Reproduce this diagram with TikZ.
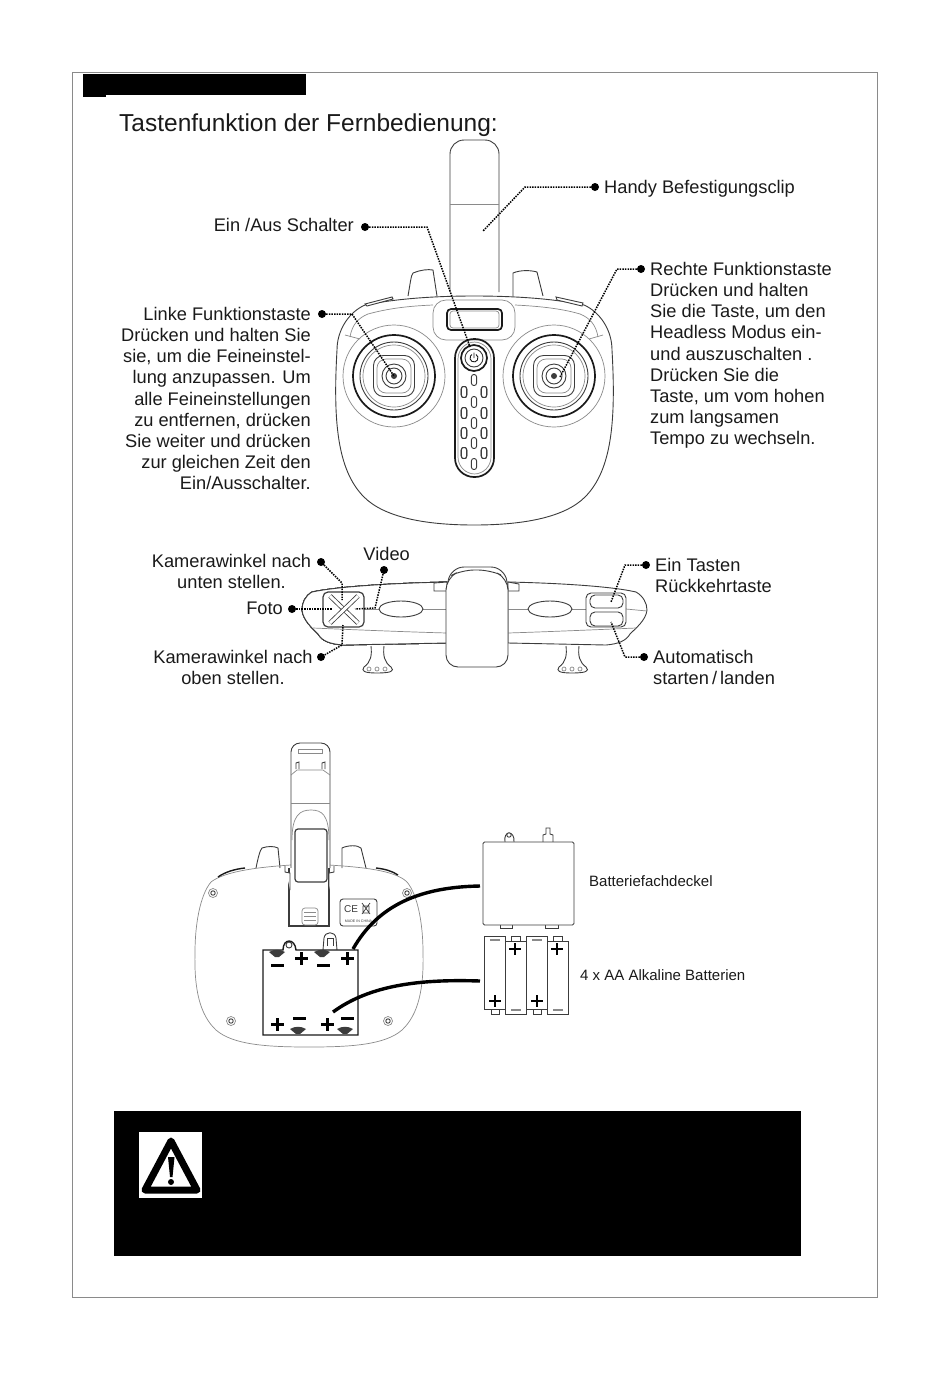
\documentclass[tikz,border=0pt]{standalone}
\usepackage{fontspec}
\setmainfont{Liberation Sans}
\usetikzlibrary{positioning, calc}
\definecolor{inkDark}{HTML}{1A1A1A}
\definecolor{inkLine}{HTML}{3C3C3C}
\definecolor{inkPale}{HTML}{8A8A8A}
\tikzset{
  outline/.style={draw=inkLine, line width=0.9pt, fill=white},
  hairline/.style={draw=inkPale, line width=0.7pt},
  heavyline/.style={draw=inkDark, line width=1.7pt},
  leader/.style={draw=black, line width=1.5pt, dash pattern=on 1.5pt off 1.1pt},
  leaddot/.style={circle, fill=black, inner sep=0pt, minimum size=8pt},
  linkcurve/.style={draw=black, line width=3.4pt},
  labelL/.style={font=\fontsize{18.25}{21.15}\selectfont, text=inkDark, align=right, anchor=north east, inner sep=0pt},
  labelR/.style={font=\fontsize{18.25}{21.15}\selectfont, text=inkDark, align=left, anchor=north west, inner sep=0pt},
  labelS/.style={font=\fontsize{15}{16}\selectfont, text=inkDark, anchor=west, inner sep=0pt},
  blackbar/.style={fill=black, draw=none}
}
\newcommand{\stickat}[2]{%
  \draw[hairline] (#1,#2) circle (51);
  \draw[heavyline] (#1,#2) circle (41);
  \draw[outline] (#1,#2) circle (34);
  \draw[hairline] (#1,#2) circle (31);
  \draw[outline, rounded corners=10] (#1-20.5,#2-20.5) rectangle (#1+20.5,#2+20.5);
  \draw[hairline, rounded corners=9] (#1-17,#2-17) rectangle (#1+17,#2+17);
  \draw[outline] (#1,#2) circle (12);
  \draw[outline] (#1,#2) circle (8);
  \draw[fill=inkLine, draw=none] (#1,#2) circle (3);}
\newcommand{\screwat}[2]{%
  \draw[hairline] (#1,#2) circle (4.5);
  \draw[outline] (#1,#2) circle (2.2);}
\newcommand{\pillat}[2]{%
  \draw[outline, rounded corners=2.4] (#1-2.6,#2-5.5) rectangle (#1+2.6,#2+5.5);}
\newcommand{\clipat}[2]{%
  \fill[inkLine] (#1-8,#2-1) .. controls (#1-3,#2-4) and (#1+3,#2-4) .. (#1+8,#2-1)
    -- (#1+2,#2+4) -- (#1-2,#2+4) -- cycle;}
\newcommand{\battcell}[2]{%
  \draw[outline] (#1,#2) rectangle (#1+21,#2+73);}
\newcommand{\minusat}[2]{%
  \fill[black] (#1-6.5,#2-1.5) rectangle (#1+6.5,#2+1.5);}
\newcommand{\plusat}[2]{%
  \minusat{#1}{#2}
  \fill[black] (#1-1.5,#2-6.5) rectangle (#1+1.5,#2+6.5);}
\begin{document}
\begin{tikzpicture}[x=1pt, y=-1pt]
    \useasboundingbox (0,0) rectangle (950,1387);
    % ---- page frame ----
    \draw[draw=inkPale, line width=1pt] (72,72) rectangle (877,1297);
    \fill[blackbar] (83,74) rectangle (306,95);
    \fill[blackbar] (83,95) rectangle (106,97);
    \node[font=\fontsize{24.5}{28}\selectfont, text=inkDark, anchor=base west, inner sep=0pt]
      (titleText) at (119,131) {Tastenfunktion der Fernbedienung:};
    % ---- front view ----
    \draw[outline, rounded corners=14] (450,292) -- (450,140) -- (499,140) -- (499,292);
    \draw[hairline] (450,204) -- (499,204);
    \draw[outline] (408,296) .. controls (410,285) and (411,275) .. (413,273)
      .. controls (420,270) and (428,269) .. (433,270) -- (437,296);
    \draw[outline] (513,296) -- (513,273) .. controls (520,270) and (530,270) .. (537,272)
      -- (543,296);
    \draw[outline] (365,305) .. controls (400,298) and (440,296) .. (474,296)
      .. controls (510,296) and (550,298) .. (584,305)
      .. controls (600,312) and (612,330) .. (612,350)
      .. controls (616,420) and (612,470) .. (585,497)
      .. controls (565,517) and (525,525) .. (474,525)
      .. controls (424,525) and (384,517) .. (364,497)
      .. controls (337,470) and (333,420) .. (337,350)
      .. controls (337,330) and (349,312) .. (365,305) -- cycle;
    \draw[hairline] (350,337) .. controls (352,325) and (358,318) .. (368,314)
      .. controls (390,308) and (410,306) .. (433,305);
    \draw[hairline] (598,337) .. controls (596,325) and (590,318) .. (580,314)
      .. controls (560,308) and (535,306) .. (515,305);
    \draw[hairline] (345,335) -- (360,339);
    \draw[hairline] (603,335) -- (589,339);
    \draw[outline] (365,304) -- (392,297) -- (393,299) -- (367,306) -- cycle;
    \draw[outline] (556,297) -- (583,303) -- (582,306) -- (557,300) -- cycle;
    \draw[hairline, rounded corners=13] (433,300) rectangle (515,340);
    \draw[heavyline, rounded corners=4] (447,309) rectangle (502,330);
    \draw[hairline, rounded corners=3] (450,311) rectangle (499,328);
    \stickat{394}{376}
    \stickat{554}{376}
    \draw[heavyline, rounded corners=19] (455,339) rectangle (494,477);
    \draw[hairline, rounded corners=17] (458,342) rectangle (491,474);
    \draw[heavyline] (474,358) circle (13);
    \draw[outline] (474,358) circle (9);
    \draw[inkDark, line width=0.9pt] (476,354.5) arc (-60:240:4) (474,352.5) -- (474,358);
    \foreach \ypos in {380,402,423,443,464}
      \pillat{474}{\ypos}
    \foreach \ypos in {392,413,433,453} {
      \pillat{464}{\ypos}
      \pillat{484}{\ypos}
    }
    % ---- side view ----
    \draw[outline] (447,582) .. controls (400,583) and (340,586) .. (312,592)
      .. controls (305,596) and (302,603) .. (302,610)
      .. controls (303,620) and (312,628) .. (318,634)
      .. controls (322,641) and (330,644) .. (343,645) -- (447,643) -- cycle;
    \draw[outline] (508,582) .. controls (555,583) and (610,586) .. (636,592)
      .. controls (643,596) and (647,603) .. (647,610)
      .. controls (646,620) and (636,628) .. (630,634)
      .. controls (626,641) and (618,644) .. (606,645) -- (508,643) -- cycle;
    \draw[hairline] (313,628) .. controls (360,630) and (410,632) .. (447,633);
    \draw[hairline] (636,628) .. controls (590,630) and (540,632) .. (508,633);
    \draw[hairline] (364,609) -- (447,609);
    \draw[hairline] (508,609) -- (586,609);
    \draw[hairline] (626,609) -- (647,611);
    \draw[outline] (401,609) ellipse (22 and 8);
    \draw[outline] (550,609) ellipse (22 and 8);
    \draw[outline] (434,591) -- (434,583) -- (447,582) -- (447,591) -- cycle;
    \draw[outline] (508,582) -- (519,584) -- (519,591) -- (508,591) -- cycle;
    \draw[outline, rounded corners=14] (447,590) -- (450,567) -- (505,567) -- (508,590);
    \draw[outline, rounded corners=12] (446,600) -- (446,667) -- (508,667) -- (508,600)
      -- (508,578) -- (490,570) -- (462,570) -- (446,578) -- cycle;
    \foreach \xpos in {371,566} {
      \draw[outline] (\xpos,646) .. controls (\xpos+1,655) and (\xpos,662) .. (\xpos-7,667)
        .. controls (\xpos-10,671) and (\xpos-7,673) .. (\xpos+6,673)
        .. controls (\xpos+20,673) and (\xpos+24,671) .. (\xpos+20,667)
        .. controls (\xpos+13,662) and (\xpos+12,655) .. (\xpos+13,646);
      \foreach \dd in {-2,6,14}
        \draw[hairline] (\xpos+\dd,669) circle (2);
    }
    % left pad
    \draw[outline, line width=1.2pt, rounded corners=5] (323,592) rectangle (364,627);
    \draw[inkLine, line width=0.8pt, double=white, double distance=3pt] (330,596) -- (358,623);
    \draw[inkLine, line width=0.8pt, double=white, double distance=3pt] (358,596) -- (330,623);
    % right pad
    \draw[outline, rounded corners=5] (586,593) rectangle (626,627);
    \draw[outline, rounded corners=5] (590,595) rectangle (623,608);
    \draw[outline, rounded corners=5] (590,612) rectangle (623,626);
    % ---- back view ----
    \draw[outline] (256,868) .. controls (258,858) and (260,850) .. (262,848)
      .. controls (268,846) and (274,846) .. (278,848) -- (280,868);
    \draw[outline] (342,868) -- (342,848) .. controls (348,845) and (358,845) .. (361,848)
      -- (366,868);
    \draw[hairline] (211,882) .. controls (225,871) and (260,867) .. (291,865)
      -- (329,865) .. controls (360,867) and (395,870) .. (407,882)
      .. controls (418,895) and (423,925) .. (423,952)
      .. controls (424,990) and (418,1015) .. (402,1030)
      .. controls (385,1045) and (350,1047) .. (309,1047)
      .. controls (268,1047) and (233,1045) .. (216,1030)
      .. controls (200,1015) and (194,990) .. (195,952)
      .. controls (195,925) and (200,895) .. (211,882) -- cycle;
    \draw[inkDark, line width=1.4pt] (218,877) .. controls (225,872) and (235,869) .. (245,868);
    \draw[inkDark, line width=1.4pt] (376,868) .. controls (385,869) and (392,871) .. (398,875);
    \draw[outline, rounded corners=9] (291,868) -- (291,743) -- (330,743) -- (330,868);
    \draw[hairline] (298,749) rectangle (322,753);
    \draw[hairline] (291,775) -- (297,770) -- (323,770) -- (330,775);
    \draw[hairline] (291,803) -- (330,803);
    \draw[hairline] (292,840) .. controls (292,815) and (300,810) .. (311,810)
      .. controls (322,810) and (329,815) .. (329,840);
    \draw[outline] (296,769) -- (296,763) -- (299,762) -- (299,769);
    \draw[outline] (322,769) -- (322,763) -- (325,762) -- (325,769);
    \draw[outline, line width=1.2pt] (289,868) -- (289,926) -- (329,926) -- (329,868);
    \draw[outline] (285,866) -- (285,872) -- (290,873) -- (290,890) (334,866) -- (334,872) -- (329,873) -- (329,890);
    \draw[outline, line width=1.2pt, rounded corners=3] (295,882) -- (295,829) -- (327,829) -- (327,882) -- cycle;
    \draw[hairline, rounded corners=3] (302,908) rectangle (318,925);
    \foreach \ypos in {912,916,920}
      \draw[hairline] (304,\ypos) -- (316,\ypos);
    \draw[outline, rounded corners=3] (340,899) rectangle (377,926);
    \node[font=\fontsize{10}{10}\selectfont, text=inkLine, inner sep=0pt] (ceMark) at (351,909) {CE};
    \node[font=\fontsize{3.6}{4}\selectfont, text=inkLine, inner sep=0pt] (madeText) at (358.5,921) {MADE IN CHINA};
    \draw[inkLine, line width=0.7pt] (362,903) -- (370,914) (370,903) -- (362,914) (363,906) rectangle (369,913);
    \screwat{213}{893}
    \screwat{407}{893}
    \screwat{231}{1021}
    \screwat{388}{1021}
    % battery door
    \draw[outline] (323,950) -- (324,938) .. controls (325,931) and (335,931) .. (336,938) -- (337,950);
    \draw[outline] (327,946) -- (327,938) -- (333,938) -- (333,946);
    \draw[heavyline, line width=1.4pt, fill=white] (263,950) -- (283,950) .. controls (283,938) and (295,938) .. (296,950)
      -- (358,950) -- (358,1035) -- (263,1035) -- cycle;
    \draw[outline] (289,945) circle (3);
    \clipat{277}{953}
    \clipat{322}{953}
    \clipat{298}{1030}
    \clipat{345}{1030}
    \minusat{277}{965}
    \plusat{301}{958}
    \minusat{323}{965}
    \plusat{347}{958}
    \plusat{277}{1024}
    \minusat{299}{1018}
    \plusat{327}{1024}
    \minusat{347}{1018}
    % ---- lid ----
    \draw[outline] (505,842) .. controls (503,830) and (515,830) .. (514,842);
    \draw[outline] (509,835) circle (2.2);
    \draw[outline] (543,842) -- (543,835) -- (546,834) -- (546,828) -- (550,828) -- (550,834) -- (553,835) -- (553,842);
    \draw[outline] (500,925) -- (500,928) -- (512,928) -- (512,925);
    \draw[outline] (545,925) -- (545,928) -- (558,928) -- (558,925);
    \draw[outline, rounded corners=1.5] (483,842) rectangle (574,925);
    % ---- batteries ----
    \foreach \xpos in {484,526} {
      \draw[outline] (\xpos+7,1009) rectangle (\xpos+15,1014);
      \battcell{\xpos}{936}
      \fill[inkPale] (\xpos+6,939) rectangle (\xpos+16,940.5);
      \fill[black] (\xpos+5,1000) rectangle (\xpos+17,1002);
      \fill[black] (\xpos+10,995) rectangle (\xpos+12,1007);
    }
    \foreach \xpos in {505,547} {
      \draw[outline] (\xpos+6,936) rectangle (\xpos+15,941);
      \battcell{\xpos}{941}
      \fill[inkPale] (\xpos+6,1009) rectangle (\xpos+16,1010.5);
      \fill[black] (\xpos+4,948) rectangle (\xpos+16,950);
      \fill[black] (\xpos+9,943) rectangle (\xpos+11,955);
    }
    % ---- warning panel ----
    \fill[blackbar] (114,1111) rectangle (801,1256);
    \fill[white] (139,1132) rectangle (202,1198);
    \draw[black, line width=7pt, line join=round, fill=white] (171,1141) -- (145,1190) -- (197,1190) -- cycle;
    \fill[black] (168,1157) -- (174.5,1157) -- (172.5,1177) -- (170,1177) -- cycle;
    \fill[black] (171,1182) circle (3);
    % ---- labels ----
    \node[labelR] (lblClip) at (604,180) {Handy Befestigungsclip};
    \node[labelL] (lblPower) at (354,218) {Ein /Aus Schalter};
    \node[labelL] (lblLeft) at (311,307) {Linke Funktionstaste\\Drücken und halten Sie\\sie, um die Feineinstel-\\lung anzupassen. Um\\alle Feineinstellungen\\zu entfernen, drücken\\Sie weiter und drücken\\zur gleichen Zeit den\\Ein/Ausschalter.};
    \node[labelR] (lblRight) at (650,262) {Rechte Funktionstaste\\Drücken und halten\\Sie die Taste, um den\\Headless Modus ein-\\und auszuschalten .\\Drücken Sie die\\Taste, um vom hohen\\zum langsamen\\Tempo zu wechseln.};
    \node[labelL, align=center, anchor=north] (lblDown) at (231.5,554) {Kamerawinkel nach\\unten stellen.};
    \node[labelL] (lblVideo) at (410,547) {Video};
    \node[labelL] (lblFoto) at (283,602) {Foto};
    \node[labelL, align=center, anchor=north] (lblUp) at (233,650) {Kamerawinkel nach\\oben stellen.};
    \node[labelR] (lblHome) at (655,558) {Ein Tasten\\Rückkehrtaste};
    \node[labelR] (lblAuto) at (653,650) {Automatisch\\starten\,/\,landen};
    \node[labelS] (lblLid) at (589,881) {Batteriefachdeckel};
    \node[labelS] (lblCells) at (580,975) {4 x AA Alkaline Batterien};
    % ---- leaders ----
    \node[leaddot] (dotClip) at (595,187) {};
    \coordinate (bendClip) at (525,187);
    \coordinate (tipClip) at (483,231);
    \draw[leader] (dotClip) -- (bendClip) -- (tipClip);
    \node[leaddot] (dotPower) at (365,227) {};
    \coordinate (bendPower) at (427,227);
    \coordinate (tipPower) at (470,347);
    \draw[leader] (dotPower) -- (bendPower) -- (tipPower);
    \node[leaddot] (dotRight) at (641,269) {};
    \coordinate (bendRight) at (617,269);
    \coordinate (tipRight) at (560,377);
    \draw[leader] (dotRight) -- (bendRight) -- (tipRight);
    \node[leaddot] (dotLeft) at (322,314) {};
    \coordinate (bendLeft) at (352,314);
    \coordinate (tipLeft) at (394,376);
    \draw[leader] (dotLeft) -- (bendLeft) -- (tipLeft);
    \node[leaddot] (dotDown) at (321,562) {};
    \coordinate (bendDown) at (342,583);
    \coordinate (tipDown) at (342,600);
    \draw[leader] (dotDown) -- (bendDown) -- (tipDown);
    \node[leaddot] (dotVideo) at (384,570) {};
    \coordinate (bendVideo) at (375,608);
    \coordinate (tipVideo) at (355,609);
    \draw[leader] (dotVideo) -- (bendVideo) -- (tipVideo);
    \node[leaddot] (dotFoto) at (292,609) {};
    \coordinate (tipFoto) at (332,609);
    \draw[leader] (dotFoto) -- (tipFoto);
    \node[leaddot] (dotUp) at (321,657) {};
    \coordinate (bendUp) at (342,645);
    \coordinate (tipUp) at (343,625);
    \draw[leader] (dotUp) -- (bendUp) -- (tipUp);
    \node[leaddot] (dotHome) at (646,565) {};
    \coordinate (bendHome) at (625,565);
    \coordinate (tipHome) at (611,602);
    \draw[leader] (dotHome) -- (bendHome) -- (tipHome);
    \node[leaddot] (dotAuto) at (644,657) {};
    \coordinate (bendAuto) at (625,657);
    \coordinate (tipAuto) at (611,622);
    \draw[leader] (dotAuto) -- (bendAuto) -- (tipAuto);
    % ---- thick links ----
    \coordinate (lidEnd) at (480,886);
    \coordinate (doorEnd) at (353,949);
    \coordinate (cellEnd) at (480,981);
    \coordinate (doorMid) at (333,1012);
    \draw[linkcurve] (lidEnd) .. controls (420,887) and (378,905) .. (doorEnd);
    \draw[linkcurve] (cellEnd) .. controls (420,979) and (370,985) .. (doorMid);
  \end{tikzpicture}
\end{document}
